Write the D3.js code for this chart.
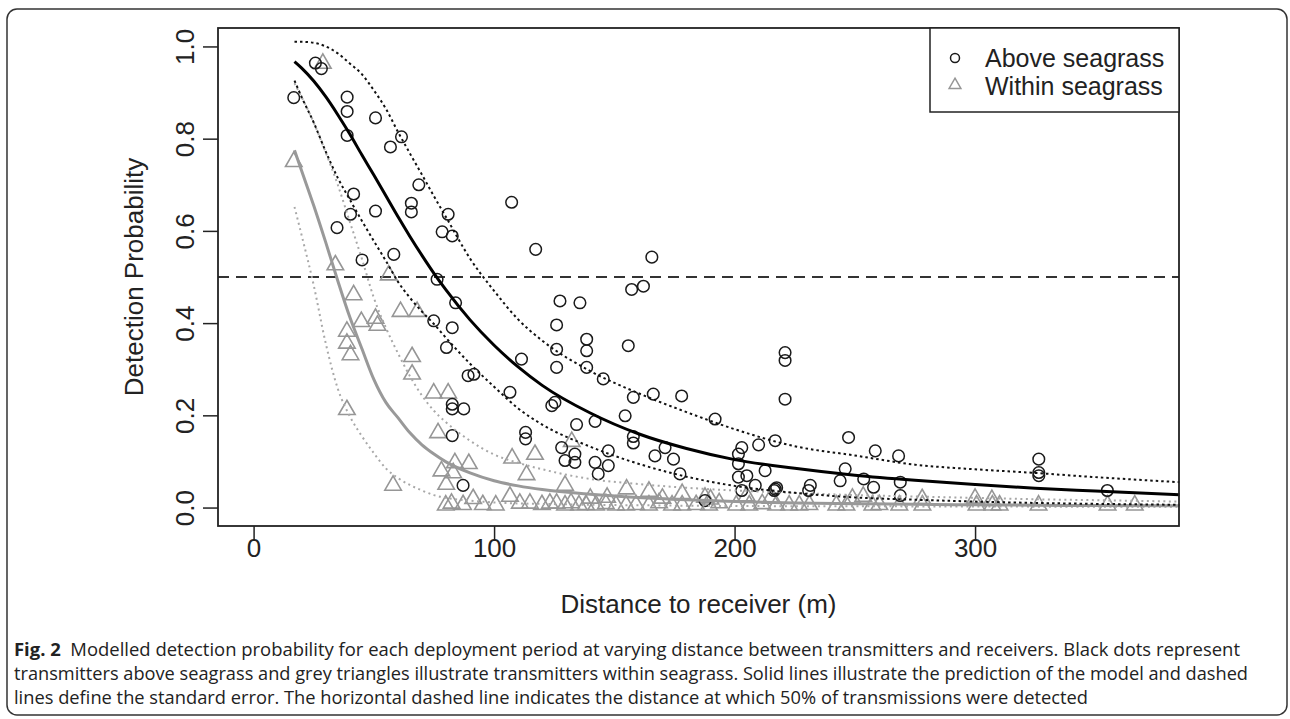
<!DOCTYPE html>
<html lang="en">
<head>
<meta charset="UTF-8">
<title>Fig. 2 Detection probability</title>
<script src="https://d3js.org/d3.v7.min.js"></script>
<style>
  body { margin: 0; background: #fff; }
  svg text { font-family: "Liberation Sans", Arial, sans-serif; }
</style>
</head>
<body>
<div id="chart"></div>
<script>
// observed detection probability, transmitters above seagrass (circles)
var aboveDist = [16.7, 25.7, 28.2, 38.9, 38.9, 50.7, 61.5, 56.9, 38.9, 68.7, 41.6, 65.6, 65.6, 50.7, 40.3, 80.9,
  107.3, 34.7, 78.4, 82.6, 45.1, 58.3, 117.3, 165.6, 76.3, 84.0, 74.9, 82.6, 80.2, 89.2, 91.6, 111.4, 106.6,
  82.6, 82.6, 87.4, 82.6, 113.1, 113.1, 87.1, 157.2, 162.1, 127.4, 135.7, 126.0, 138.5, 138.5, 155.8, 126.0,
  126.0, 138.5, 145.4, 157.9, 166.2, 178.0, 221.0, 221.0, 221.0, 124.0, 125.3, 134.3, 142.0, 154.5, 157.9,
  157.9, 191.9, 128.1, 147.5, 171.1, 166.9, 174.6, 129.5, 133.6, 133.6, 142.0, 147.5, 143.3, 177.3, 203.0,
  210.0, 216.9, 201.6, 201.6, 212.7, 205.1, 201.6, 208.6, 203.0, 216.9, 216.5, 231.5, 230.8, 246.0, 243.9,
  247.4, 258.5, 268.2, 253.7, 257.8, 268.9, 268.9, 326.5, 326.5, 326.5, 355.0, 187.7, 217.5];
var aboveProb = [0.889, 0.964, 0.952, 0.890, 0.859, 0.845, 0.804, 0.782, 0.807, 0.700, 0.680, 0.660, 0.641, 0.643, 0.636, 0.636,
  0.662, 0.607, 0.598, 0.589, 0.537, 0.549, 0.560, 0.543, 0.495, 0.444, 0.405, 0.390, 0.347, 0.286, 0.289, 0.322, 0.250,
  0.224, 0.214, 0.214, 0.156, 0.163, 0.149, 0.048, 0.473, 0.480, 0.448, 0.444, 0.396, 0.365, 0.340, 0.351, 0.343,
  0.304, 0.304, 0.279, 0.239, 0.246, 0.242, 0.336, 0.319, 0.235, 0.221, 0.228, 0.180, 0.187, 0.199, 0.154,
  0.140, 0.192, 0.130, 0.123, 0.130, 0.112, 0.105, 0.102, 0.098, 0.116, 0.098, 0.091, 0.073, 0.073, 0.130,
  0.136, 0.145, 0.116, 0.095, 0.080, 0.069, 0.066, 0.048, 0.037, 0.040, 0.037, 0.048, 0.037, 0.084, 0.058,
  0.152, 0.123, 0.112, 0.062, 0.044, 0.055, 0.026, 0.105, 0.076, 0.069, 0.037, 0.015, 0.043];

// observed detection probability, transmitters within seagrass (triangles)
var withinDist = [16.7, 28.8, 34.0, 56.2, 41.6, 61.1, 68.0, 44.8, 50.7, 51.5, 38.8, 38.8, 40.3, 65.9, 65.9, 74.9,
  80.9, 38.8, 76.7, 58.0, 107.5, 117.0, 113.5, 78.1, 83.7, 89.5, 83.0, 80.1, 91.3, 82.3, 87.1, 106.6, 110.7,
  114.9, 123.2, 126.0, 132.3, 129.5, 155.1, 164.4, 178.2,
  79.9, 95.3, 100.7, 119.9, 129.5, 132.0, 135.3, 138.2, 142.4, 146.5, 150.7, 154.9, 159.0, 164.4, 168.6, 174.0,
  178.2, 184.0, 189.4, 193.6, 200.7, 206.1, 211.5, 217.3, 222.7, 226.9, 231.1, 242.3, 246.5, 257.3, 260.2,
  268.5, 278.1, 300.6, 307.2, 310.2, 326.4, 355.1, 366.4,
  140.0, 170.0, 190.0, 205.0, 215.0, 249.0, 253.5, 278.0, 300.0, 307.0, 147.0, 187.7];
var withinProb = [0.750, 0.963, 0.526, 0.504, 0.461, 0.425, 0.425, 0.403, 0.410, 0.395, 0.382, 0.356, 0.331, 0.327, 0.289, 0.248,
  0.248, 0.212, 0.162, 0.048, 0.107, 0.115, 0.071, 0.079, 0.097, 0.095, 0.075, 0.050, 0.019, 0.009, 0.006, 0.024, 0.009,
  0.009, 0.009, 0.009, 0.143, 0.048, 0.040, 0.035, 0.030,
  0.005, 0.006, 0.005, 0.006, 0.005, 0.010, 0.005, 0.006, 0.005, 0.008, 0.005, 0.005, 0.006, 0.005, 0.010, 0.005,
  0.005, 0.006, 0.005, 0.010, 0.005, 0.005, 0.008, 0.005, 0.005, 0.005, 0.006, 0.005, 0.005, 0.005, 0.006,
  0.005, 0.005, 0.005, 0.005, 0.005, 0.005, 0.005, 0.005,
  0.020, 0.020, 0.018, 0.025, 0.020, 0.020, 0.024, 0.019, 0.020, 0.017, 0.022, 0.022];

// model predictions and standard error bands
var fitDist = [17, 20, 25, 30, 35, 40, 45, 50, 55, 60, 65, 70, 75, 80, 90, 100, 110, 120, 140, 160, 180, 200, 225, 250, 275, 300, 325, 350, 385];
var aboveFit = [0.967, 0.953, 0.925, 0.891, 0.852, 0.810, 0.765, 0.721, 0.676, 0.631, 0.588, 0.547, 0.508, 0.472, 0.407, 0.352,
  0.305, 0.265, 0.205, 0.160, 0.128, 0.104, 0.085, 0.070, 0.059, 0.050, 0.042, 0.036, 0.028];
var aboveUpper = [1.010, 1.010, 1.008, 1.000, 0.985, 0.963, 0.940, 0.905, 0.865, 0.815, 0.768, 0.722, 0.675, 0.630, 0.540, 0.470,
  0.408, 0.362, 0.296, 0.248, 0.207, 0.170, 0.133, 0.113, 0.093, 0.083, 0.075, 0.066, 0.055];
var aboveLower = [0.926, 0.890, 0.835, 0.772, 0.715, 0.668, 0.622, 0.578, 0.535, 0.490, 0.455, 0.425, 0.398, 0.368, 0.312, 0.262,
  0.215, 0.180, 0.132, 0.095, 0.067, 0.047, 0.032, 0.022, 0.017, 0.013, 0.010, 0.008, 0.006];
var withinFit = [0.775, 0.730, 0.655, 0.575, 0.492, 0.413, 0.345, 0.278, 0.228, 0.195, 0.162, 0.136, 0.116, 0.099, 0.075, 0.058,
  0.047, 0.039, 0.029, 0.022, 0.017, 0.013, 0.010, 0.0085, 0.007, 0.006, 0.005, 0.0045, 0.004];
var withinUpper = [0.920, 0.890, 0.835, 0.770, 0.700, 0.620, 0.540, 0.455, 0.390, 0.335, 0.285, 0.243, 0.210, 0.185, 0.145, 0.115,
  0.097, 0.083, 0.062, 0.051, 0.043, 0.037, 0.032, 0.027, 0.024, 0.021, 0.018, 0.016, 0.013];
var withinLower = [0.652, 0.590, 0.482, 0.356, 0.258, 0.198, 0.155, 0.118, 0.085, 0.064, 0.049, 0.037, 0.027, 0.021, 0.015, 0.011,
  0.009, 0.008, 0.006, 0.005, 0.004, 0.0035, 0.003, 0.003, 0.0025, 0.0025, 0.002, 0.002, 0.002];

var xTicks = [0, 100, 200, 300];
var yTicks = [0.0, 0.2, 0.4, 0.6, 0.8, 1.0];
var threshold = 0.5;
var legendLabels = ["Above seagrass", "Within seagrass"];
var captionLines = [
  ["Fig. 2", "  Modelled detection probability for each deployment period at varying distance between transmitters and receivers. Black dots represent"],
  ["", "transmitters above seagrass and grey triangles illustrate transmitters within seagrass. Solid lines illustrate the prediction of the model and dashed"],
  ["", "lines define the standard error. The horizontal dashed line indicates the distance at which 50% of transmissions were detected"]
];

var W = 1290, H = 719;
var box = {left: 218, right: 1179, top: 28, bottom: 526};

var svg = d3.select("#chart").append("svg")
    .attr("width", W)
    .attr("height", H);

svg.append("rect").attr("width", W).attr("height", H).attr("fill", "#fff");

// figure frame
svg.append("rect")
    .attr("x", 7).attr("y", 9)
    .attr("width", 1280).attr("height", 706)
    .attr("rx", 10)
    .attr("fill", "none")
    .attr("stroke", "#333")
    .attr("stroke-width", 1.5);

var x = d3.scaleLinear().domain([-14.8, 384.8]).range([box.left, box.right]);
var y = d3.scaleLinear().domain([-0.04, 1.04]).range([box.bottom, box.top]);

// axes (R style: ticks outside, box drawn separately)
var xAxis = svg.append("g")
    .attr("transform", "translate(0," + box.bottom + ")")
    .call(d3.axisBottom(x).tickValues(xTicks).tickSize(15).tickSizeOuter(0).tickFormat(d3.format("d")));
xAxis.select(".domain").remove();
xAxis.selectAll("line").attr("stroke", "#222").attr("stroke-width", 1.5);
xAxis.selectAll("text").attr("font-size", 26).attr("fill", "#222").attr("y", 31).attr("dy", 0);

var yAxis = svg.append("g")
    .attr("transform", "translate(" + box.left + ",0)")
    .call(d3.axisLeft(y).tickValues(yTicks).tickSize(15).tickSizeOuter(0).tickFormat(d3.format(".1f")));
yAxis.select(".domain").remove();
yAxis.selectAll("line").attr("stroke", "#222").attr("stroke-width", 1.5);
yAxis.selectAll("text")
    .attr("font-size", 26).attr("fill", "#222")
    .attr("x", 0).attr("dy", 0)
    .attr("text-anchor", "middle")
    .attr("transform", "translate(-24,0) rotate(-90)");

svg.append("text")
    .attr("x", (box.left + box.right) / 2)
    .attr("y", 613)
    .attr("text-anchor", "middle")
    .attr("font-size", 26)
    .attr("fill", "#222")
    .text("Distance to receiver (m)");

svg.append("text")
    .attr("transform", "translate(143," + (box.top + box.bottom) / 2 + ") rotate(-90)")
    .attr("text-anchor", "middle")
    .attr("font-size", 26)
    .attr("fill", "#222")
    .text("Detection Probability");

var plot = svg.append("g");

// 50% line
plot.append("line")
    .attr("x1", box.left).attr("x2", box.right)
    .attr("y1", y(threshold)).attr("y2", y(threshold))
    .attr("stroke", "#333").attr("stroke-width", 2)
    .attr("stroke-dasharray", "11,7");

function drawCurve(vals, color, width, dash) {
  var line = d3.line()
      .x(function(d, i) { return x(fitDist[i]); })
      .y(function(d) { return y(d); })
      .curve(d3.curveMonotoneX);
  plot.append("path")
      .datum(vals)
      .attr("d", line)
      .attr("fill", "none")
      .attr("stroke", color)
      .attr("stroke-width", width)
      .attr("stroke-dasharray", dash);
}

// points first, lines over them
var withinPts = withinDist.map(function(d, i) { return [d, withinProb[i]]; });
var abovePts = aboveDist.map(function(d, i) { return [d, aboveProb[i]]; });

plot.selectAll("path.tri")
    .data(withinPts)
    .enter().append("path")
    .attr("class", "tri")
    .attr("transform", function(d) { return "translate(" + x(d[0]) + "," + y(d[1]) + ")"; })
    .attr("d", d3.symbol(d3.symbolTriangle).size(118))
    .attr("fill", "none")
    .attr("stroke", "#969696")
    .attr("stroke-width", 1.6);

plot.selectAll("circle.pt")
    .data(abovePts)
    .enter().append("circle")
    .attr("class", "pt")
    .attr("cx", function(d) { return x(d[0]); })
    .attr("cy", function(d) { return y(d[1]); })
    .attr("r", 5.8)
    .attr("fill", "none")
    .attr("stroke", "#1a1a1a")
    .attr("stroke-width", 1.5);

drawCurve(withinUpper, "#a8a8a8", 2, "2,3.5");
drawCurve(withinLower, "#a8a8a8", 2, "2,3.5");
drawCurve(withinFit, "#999", 3, null);
drawCurve(aboveUpper, "#111", 2, "2.5,3");
drawCurve(aboveLower, "#111", 2, "2.5,3");
drawCurve(aboveFit, "#000", 3, null);

// plot box
svg.append("rect")
    .attr("x", box.left).attr("y", box.top)
    .attr("width", box.right - box.left).attr("height", box.bottom - box.top)
    .attr("fill", "none").attr("stroke", "#222").attr("stroke-width", 1.8);

// legend
var lg = svg.append("g");
lg.append("rect")
    .attr("x", 930).attr("y", box.top)
    .attr("width", box.right - 930).attr("height", 84)
    .attr("fill", "#fff").attr("stroke", "#222").attr("stroke-width", 1.5);
lg.append("circle").attr("cx", 955).attr("cy", 58).attr("r", 4.5)
    .attr("fill", "none").attr("stroke", "#1a1a1a").attr("stroke-width", 1.5);
lg.append("path")
    .attr("transform", "translate(955,85)")
    .attr("d", d3.symbol(d3.symbolTriangle).size(60))
    .attr("fill", "none").attr("stroke", "#969696").attr("stroke-width", 1.5);
lg.selectAll("text.lab")
    .data(legendLabels)
    .enter().append("text")
    .attr("class", "lab")
    .attr("x", 985)
    .attr("y", function(d, i) { return 67 + i * 28; })
    .attr("font-size", 25)
    .attr("fill", "#222")
    .text(function(d) { return d; });

// caption
var capWidths = [1226, 1234, 1074];
captionLines.forEach(function(parts, i) {
  var t = svg.append("text")
      .attr("x", 14)
      .attr("y", 656 + i * 24)
      .attr("font-size", 18)
      .attr("fill", "#222")
      .style("font-family", "'Open Sans', 'Noto Sans', sans-serif")
      .attr("textLength", capWidths[i])
      .attr("lengthAdjust", "spacingAndGlyphs")
      .attr("xml:space", "preserve");
  if (parts[0]) t.append("tspan").attr("font-weight", "bold").text(parts[0]);
  t.append("tspan").text(parts[1]);
});
</script>
</body>
</html>
